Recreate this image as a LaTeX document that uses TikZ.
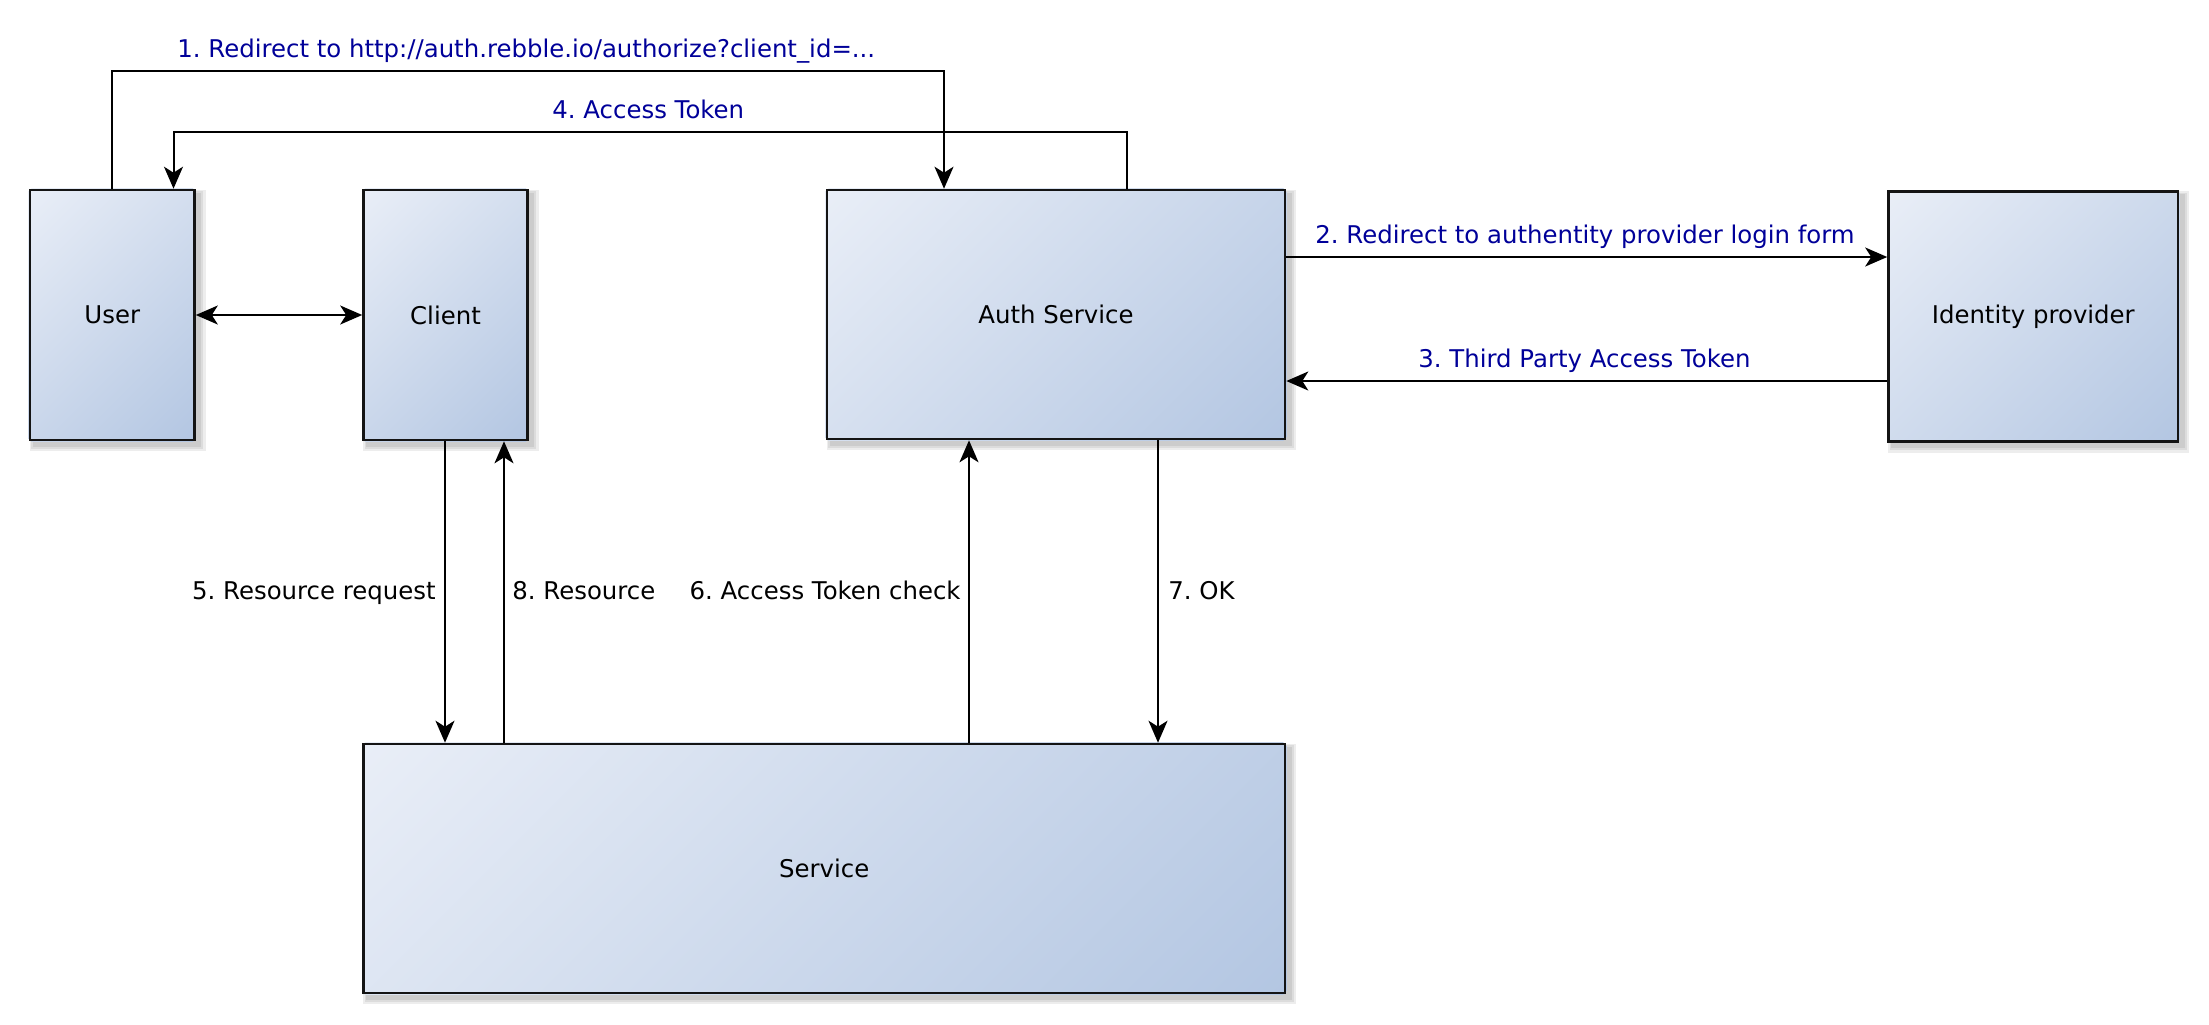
\documentclass[tikz,border=0pt]{standalone}
\usepackage{fontspec}
\setmainfont{DejaVu Sans}
\frenchspacing
\usetikzlibrary{arrows.meta,calc,backgrounds}
\pgfdeclarelayer{bottom}
\pgfdeclarelayer{background}
\pgfsetlayers{bottom,background,main}
\definecolor{boxlight}{HTML}{E9EEF7}
\definecolor{boxdark}{HTML}{B3C6E2}
\definecolor{lblblue}{HTML}{000099}
\begin{document}
\begin{tikzpicture}[x=0.5pt,y=-0.5pt,
  font=\fontsize{12.2pt}{14pt}\selectfont\frenchspacing,
  box/.style={draw=black!92, line width=1.3pt, rectangle, inner sep=0pt},
  arr/.style={line width=1pt, -{Stealth[length=11pt,width=9.5pt,inset=3pt]}},
  arrb/.style={line width=1pt, {Stealth[length=11pt,width=9.5pt,inset=3pt]}-{Stealth[length=11pt,width=9.5pt,inset=3pt]}},
  lbl/.style={inner sep=0pt, text=black},
  blbl/.style={inner sep=0pt, text=lblblue},
  shadowpart/.style={fill=black, opacity=0.07}]
\useasboundingbox (0,0) rectangle (2209,1024);
\begin{pgfonlayer}{bottom}
  \fill[white] (0,0) rectangle (2209,1024);
\end{pgfonlayer}

% boxes
\node[box, minimum width=82.25pt, minimum height=125pt] (user) at (112.25,315) {User};
\node[box, minimum width=82pt, minimum height=125pt] (client) at (445.5,315) {Client};
\node[box, minimum width=229pt, minimum height=124.5pt] (auth) at (1056,314.5) {Auth Service};
\node[box, minimum width=144.75pt, minimum height=125pt] (idp) at (2033.25,316.5) {Identity provider};
\node[box, minimum width=460.75pt, minimum height=124.5pt] (svc) at (824.25,868.5) {Service};

% shadows and gradient fills
\begin{pgfonlayer}{background}
  \foreach \n/\s in {user/146.6, client/146.4, auth/250.0, idp/190.7, svc/413.8} {
    \fill[shadowpart] ([shift={(0.6pt,-0.6pt)}]\n.north west) rectangle ([shift={(5pt,-5pt)}]\n.south east);
    \fill[shadowpart] ([shift={(1.3pt,-1.3pt)}]\n.north west) rectangle ([shift={(3.8pt,-3.8pt)}]\n.south east);
    \fill[shadowpart] ([shift={(2pt,-2pt)}]\n.north west) rectangle ([shift={(2.8pt,-2.8pt)}]\n.south east);
    \begin{scope}
      \clip (\n.north west) rectangle (\n.south east);
      \begin{scope}[transform canvas={rotate around={-45:(\n.center)}}]
        \shade[left color=boxlight, right color=boxdark]
          ($(\n.center)+(-\s,-\s)$) rectangle ($(\n.center)+(\s,\s)$);
      \end{scope}
    \end{scope}
  }
\end{pgfonlayer}

% helper coordinates
\coordinate (r1) at (0,71);
\coordinate (r4) at (0,132);
\coordinate (r2) at (0,257);
\coordinate (r3) at (0,381);
\coordinate (a1x) at (944,0);
\coordinate (a4x) at (1127,0);
\coordinate (u4x) at (173.5,0);
\coordinate (c5) at (445,0);
\coordinate (c8) at (504,0);
\coordinate (c6) at (969,0);
\coordinate (c7) at (1158,0);

% connectors
\draw[arr] (user.north) -- (user.north |- r1) -| (auth.north -| a1x);
\draw[arr] (auth.north -| a4x) -- (a4x |- r4) -| (user.north -| u4x);
\draw[arrb] (user.east) -- (client.west);
\draw[arr] (auth.east |- r2) -- (idp.west |- r2);
\draw[arr] (idp.west |- r3) -- (auth.east |- r3);
\draw[arr] (client.south -| c5) -- (svc.north -| c5);
\draw[arr] (svc.north -| c8) -- (client.south -| c8);
\draw[arr] (svc.north -| c6) -- (auth.south -| c6);
\draw[arr] (auth.south -| c7) -- (svc.north -| c7);

% labels
\node[blbl, anchor=base west] (l1) at (177,57) {1. Redirect to http://auth.rebble.io/authorize?client\_id=...};
\node[blbl, anchor=base west] (l4) at (552,118) {4. Access Token};
\node[blbl, anchor=base west] (l2) at (1315,243) {2. Redirect to authentity provider login form};
\node[blbl, anchor=base west] (l3) at (1418,367) {3. Third Party Access Token};
\node[lbl, anchor=base east] (l5) at (436,599) {5. Resource request};
\node[lbl, anchor=base west] (l8) at (512,599) {8. Resource};
\node[lbl, anchor=base east] (l6) at (961,599) {6. Access Token check};
\node[lbl, anchor=base west] (l7) at (1168,599) {7. OK};
\end{tikzpicture}
\end{document}
